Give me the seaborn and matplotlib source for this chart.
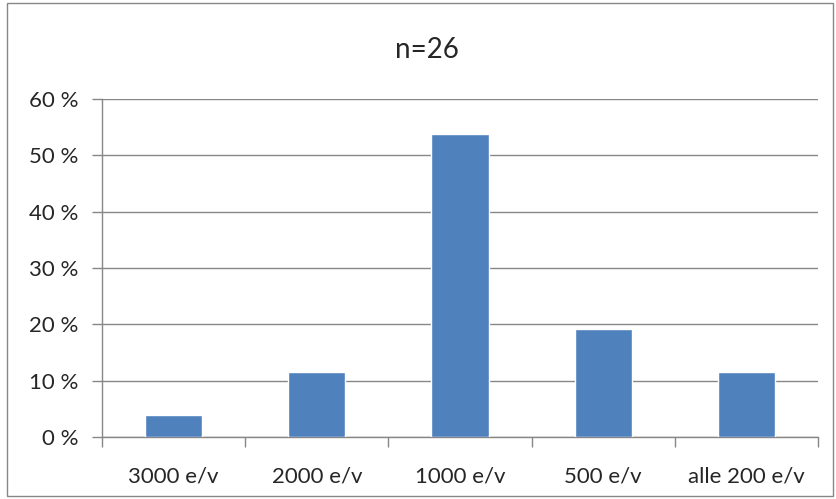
import matplotlib
matplotlib.use("Agg")
import matplotlib.pyplot as plt
import seaborn as sns
import pandas as pd
import numpy as np
from matplotlib.ticker import FuncFormatter, FixedLocator
from matplotlib.patches import Rectangle

categories = ["3000 e/v", "2000 e/v", "1000 e/v", "500 e/v", "alle 200 e/v"]
values = [3.85, 11.54, 53.85, 19.23, 11.54]
title = "n=26"
yticks = [0, 10, 20, 30, 40, 50, 60]

sns.set_style("white")
plt.rcParams["font.family"] = ["Lato", "DejaVu Sans"]

df = pd.DataFrame({"cat": categories, "val": values})

W, H = 836, 499
fig = plt.figure(figsize=(W / 100, H / 100), dpi=100)
ax = fig.add_axes([102 / W, 1 - 437 / H, (818 - 102) / W, (437 - 99) / H])

sns.barplot(data=df, x="cat", y="val", color="#4F81BD", width=0.4, ax=ax,
            saturation=1, zorder=3)

gcol = "#878787"
ax.set_ylim(0, 60)
ax.set_xlim(-0.5, 4.5)
ax.set_yticks(yticks)
ax.yaxis.set_major_formatter(FuncFormatter(lambda v, p: f"{int(v)} %"))
ax.grid(axis="y", color=gcol, linewidth=1, zorder=0)
ax.set_axisbelow(True)

for s in ["top", "right"]:
    ax.spines[s].set_visible(False)
for s in ["left", "bottom"]:
    ax.spines[s].set_color(gcol)
    ax.spines[s].set_linewidth(1)

ax.tick_params(axis="y", length=7, color=gcol, width=1, labelsize=16, pad=10,
               left=True)
ax.tick_params(axis="x", which="major", length=0, labelsize=16, pad=21)
ax.xaxis.set_minor_locator(FixedLocator(np.arange(-0.5, 5, 1)))
ax.tick_params(axis="x", which="minor", length=7, color=gcol, width=1,
               bottom=True)
ax.set_xlabel("")
ax.set_ylabel("")

fig.text(427 / W, 1 - 50 / H, title, ha="center", va="center",
         fontsize=20)

fig.patches.append(Rectangle((7 / W, 3 / H), (833 - 7) / W, (496 - 3) / H,
                             transform=fig.transFigure, fill=False,
                             edgecolor=gcol, linewidth=1))

fig.savefig("out.png", dpi=100)
